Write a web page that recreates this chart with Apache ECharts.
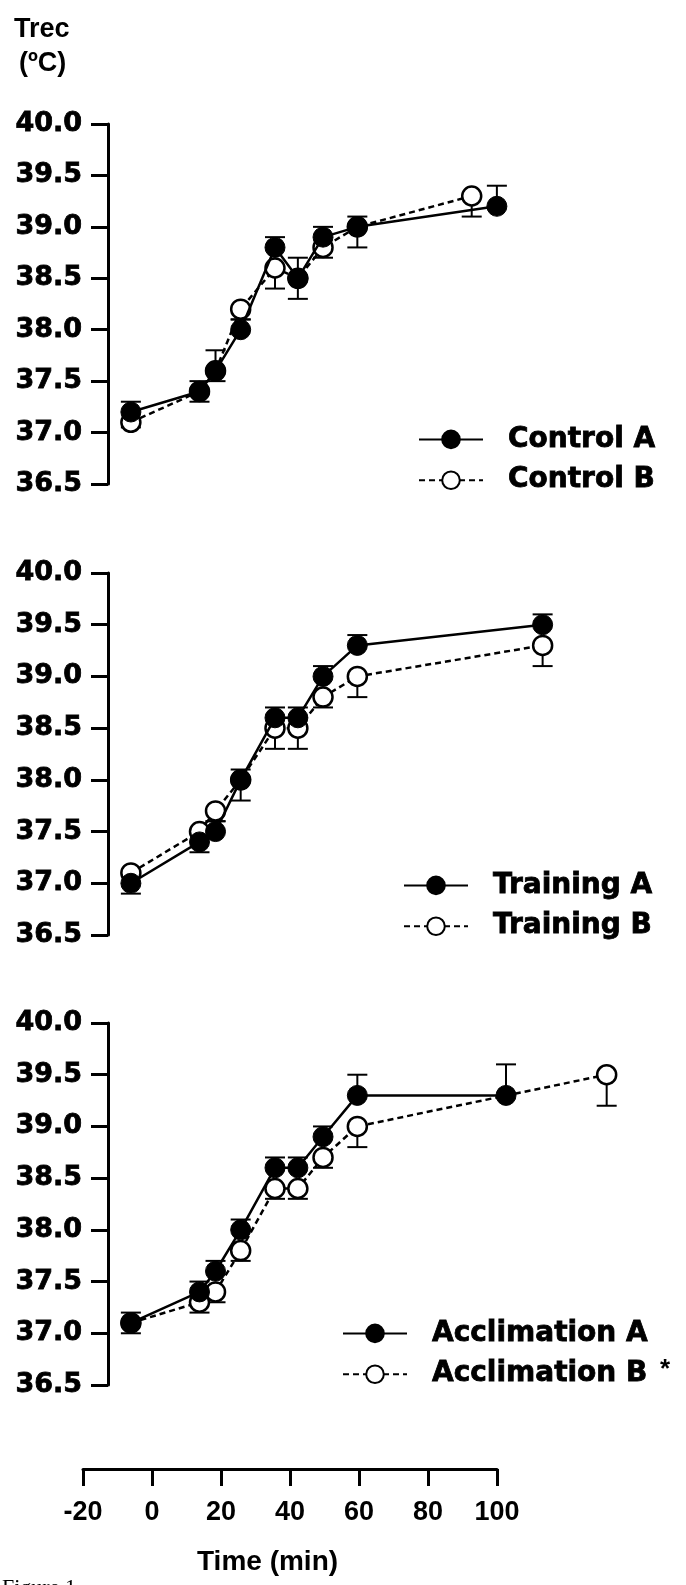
<!DOCTYPE html>
<html><head><meta charset="utf-8">
<script src="https://cdn.jsdelivr.net/npm/echarts@6/dist/echarts.min.js"></script>
<style>html,body{margin:0;padding:0;background:#fff;}#c{width:686px;height:1585px;}</style>
</head><body><div id="c"></div>
<script>
// ---- data ----
const yTicks = [36.5, 37.0, 37.5, 38.0, 38.5, 39.0, 39.5, 40.0];
const xTicks = [-20, 0, 20, 40, 60, 80, 100];

const controlNames = ['Control A', 'Control B'];
const controlTimeA = [-15, 0, 3.5, 9, 16.5, 21.5, 27, 34.5, 65];
const controlTimeB = [-15, 0, 3.5, 9, 16.5, 21.5, 27, 34.5, 59.5];
const controlA = [37.2, 37.4, 37.6, 38.0, 38.8, 38.5, 38.9, 39.0, 39.2];
const controlAErr = [0.1, 0.1, 0.2, 0.1, 0.1, 0.2, 0.1, 0.1, 0.2];
const controlB = [37.1, 37.4, 37.6, 38.2, 38.6, 38.5, 38.8, 39.0, 39.3];
const controlBErr = [0.05, 0.1, 0.1, 0.1, 0.2, 0.2, 0.1, 0.2, 0.2];

const trainingNames = ['Training A', 'Training B'];
const trainingTimeA = [-15, 0, 3.5, 9, 16.5, 21.5, 27, 34.5, 75];
const trainingTimeB = [-15, 0, 3.5, 9, 16.5, 21.5, 27, 34.5, 75];
const trainingA = [37.0, 37.4, 37.5, 38.0, 38.6, 38.6, 39.0, 39.3, 39.5];
const trainingAErr = [0.1, 0.1, 0.1, 0.1, 0.1, 0.1, 0.1, 0.1, 0.1];
const trainingB = [37.1, 37.5, 37.7, 38.0, 38.5, 38.5, 38.8, 39.0, 39.3];
const trainingBErr = [0.2, 0.2, 0.1, 0.2, 0.2, 0.2, 0.1, 0.2, 0.2];

const acclimNames = ['Acclimation A', 'Acclimation B'];
const acclimTimeA = [-15, 0, 3.5, 9, 16.5, 21.5, 27, 34.5, 67];
const acclimTimeB = [-15, 0, 3.5, 9, 16.5, 21.5, 27, 34.5, 89];
const acclimA = [37.1, 37.4, 37.6, 38.0, 38.6, 38.6, 38.9, 39.3, 39.3];
const acclimAErr = [0.1, 0.1, 0.1, 0.1, 0.1, 0.1, 0.1, 0.2, 0.3];
const acclimB = [37.1, 37.3, 37.4, 37.8, 38.4, 38.4, 38.7, 39.0, 39.5];
const acclimBErr = [0.1, 0.1, 0.1, 0.1, 0.1, 0.1, 0.1, 0.2, 0.3];

// ---- layout ----
const panels = [
  {names: controlNames, tA: controlTimeA, tB: controlTimeB, a: controlA, aE: controlAErr, b: controlB, bE: controlBErr,
   top: 124, height: 360, legLeft: 413, legTop: 420},
  {names: trainingNames, tA: trainingTimeA, tB: trainingTimeB, a: trainingA, aE: trainingAErr, b: trainingB, bE: trainingBErr,
   top: 573, height: 362, legLeft: 398, legTop: 866},
  {names: acclimNames, tA: acclimTimeA, tB: acclimTimeB, a: acclimA, aE: acclimAErr, b: acclimB, bE: acclimBErr,
   top: 1023, height: 362, legLeft: 337, legTop: 1314}
];

const boldWide = 'DejaVu Sans';
const boldArial = 'Liberation Sans';

function errRender(dir) {
  return function (params, api) {
    const x = api.value(0), y = api.value(1), e = api.value(2);
    const p0 = api.coord([x, y]);
    const p1 = api.coord([x, y + dir * e]);
    const hw = 10;
    return {
      type: 'group',
      children: [
        {type: 'line', shape: {x1: p0[0], y1: p0[1], x2: p1[0], y2: p1[1]}, style: {stroke: '#000', lineWidth: 2}},
        {type: 'line', shape: {x1: p1[0] - hw, y1: p1[1], x2: p1[0] + hw, y2: p1[1]}, style: {stroke: '#000', lineWidth: 2}}
      ]
    };
  };
}

const grid = [], xAxis = [], yAxis = [], series = [], legend = [];
panels.forEach((p, i) => {
  grid.push({left: 108, right: 29, top: p.top, height: p.height});
  xAxis.push({type: 'value', gridIndex: i, min: -20, max: 100, show: false});
  yAxis.push({
    type: 'value', gridIndex: i, min: yTicks[0], max: yTicks[yTicks.length - 1], interval: 0.5,
    axisLine: {show: true, onZero: false, lineStyle: {color: '#000', width: 3}},
    axisTick: {show: true, length: 17, lineStyle: {color: '#000', width: 3}},
    axisLabel: {formatter: v => v.toFixed(1), fontFamily: boldWide, fontWeight: 'bold', fontSize: 27, color: '#000', margin: 26,
      textBorderColor: '#000', textBorderWidth: 0.8},
    splitLine: {show: false}
  });
  series.push({
    type: 'custom', xAxisIndex: i, yAxisIndex: i, renderItem: errRender(-1), z: 1, clip: false,
    data: p.tB.map((t, k) => [t, p.b[k], p.bE[k]]), silent: true
  });
  series.push({
    type: 'custom', xAxisIndex: i, yAxisIndex: i, renderItem: errRender(1), z: 1, clip: false,
    data: p.tA.map((t, k) => [t, p.a[k], p.aE[k]]), silent: true
  });
  series.push({
    name: p.names[1], type: 'line', xAxisIndex: i, yAxisIndex: i, z: 3,
    data: p.tB.map((t, k) => [t, p.b[k]]),
    symbol: 'circle', symbolSize: 19,
    itemStyle: {color: '#fff', borderColor: '#000', borderWidth: 2.5},
    lineStyle: {color: '#000', width: 2.5, type: [6, 4]}
  });
  series.push({
    name: p.names[0], type: 'line', xAxisIndex: i, yAxisIndex: i, z: 4,
    data: p.tA.map((t, k) => [t, p.a[k]]),
    symbol: 'circle', symbolSize: 20,
    itemStyle: {color: '#000', borderColor: '#000', borderWidth: 1},
    lineStyle: {color: '#000', width: 2.5, type: 'solid'}
  });
  legend.push({
    orient: 'vertical', left: p.legLeft, top: p.legTop, itemWidth: 64, itemHeight: 22, itemGap: 12,
    selectedMode: false, data: p.names,
    textStyle: {fontFamily: boldWide, fontWeight: 'bold', fontSize: 28, color: '#000', padding: [0, 0, 0, 20],
      textBorderColor: '#000', textBorderWidth: 0.8}
  });
});

// bottom time axis (drawn separately, as in the figure)
grid.push({left: 83, width: 414, top: 1400, height: 69});
xAxis.push({
  type: 'value', gridIndex: 3, min: xTicks[0], max: xTicks[xTicks.length - 1], interval: 20, position: 'bottom',
  axisLine: {show: true, onZero: false, lineStyle: {color: '#000', width: 3}},
  axisTick: {show: true, length: 17, lineStyle: {color: '#000', width: 3}},
  axisLabel: {fontFamily: boldArial, fontWeight: 'bold', fontSize: 27, color: '#000', margin: 30},
  splitLine: {show: false}
});
yAxis.push({type: 'value', gridIndex: 3, show: false, min: 0, max: 1});

const chart = echarts.init(document.getElementById('c'), null, {renderer: 'canvas'});
chart.setOption({
  animation: false,
  backgroundColor: '#fff',
  grid, xAxis, yAxis, series, legend,
  graphic: [
    {type: 'text', left: 14, top: 16, style: {text: 'Trec', font: 'bold 27px "Liberation Sans"', fill: '#000'}},
    {type: 'text', left: 19, top: 50, style: {text: '(ºC)', font: 'bold 27px "Liberation Sans"', fill: '#000'}},
    {type: 'text', left: 660, top: 1357, style: {text: '*', font: 'bold 26px "Liberation Sans"', fill: '#000'}},
    {type: 'text', left: 197, top: 1548, style: {text: 'Time (min)', font: 'bold 28px "Liberation Sans"', fill: '#000'}},
    {type: 'text', left: 2, top: 1577, style: {text: 'Figure 1', font: '22px "Liberation Serif"', fill: '#000'}}
  ]
});
</script>
</body></html>
